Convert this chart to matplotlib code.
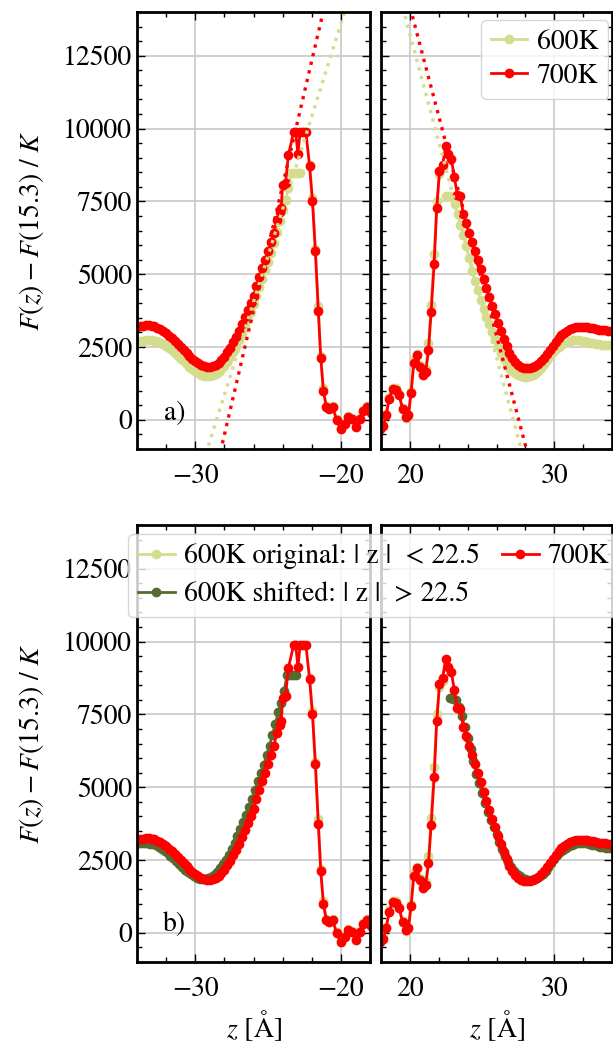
#!/usr/bin/env python3

import numpy as np
import matplotlib
matplotlib.use('Agg')
import matplotlib.pyplot as plt
from matplotlib.ticker import MultipleLocator

plt.rcParams['font.family'] = 'STIXGeneral'
plt.rcParams['mathtext.fontset'] = 'stix'
plt.rcParams['font.size'] = 20

STEP = 0.2

# ---------------- 700K ----------------
# z < 0 : smooth outer part, z = -34.0, -33.8, ..., -24.2
Z0_700_LEFT = -34.0
f700_left_tail = [3200, 3215, 3230, 3240, 3240, 3230, 3205, 3170, 3120, 3055,
                  2980, 2895, 2800, 2700, 2595, 2490, 2385, 2285, 2185, 2095,
                  2015, 1945, 1890, 1850, 1825, 1820, 1840, 1885, 1955, 2050,
                  2170, 2320, 2480, 2660, 2850, 3060, 3290, 3520, 3760, 4000,
                  4250, 4580, 4900, 5200, 5480, 5800, 6100, 6420, 6850, 7150]
# z < 0 : barrier peak and inner part
z700_left_peak = [-24.1, -24.0, -23.8, -23.6, -23.25, -23.1, -22.95, -22.8, -22.6, -22.4,
                  -22.15, -21.95, -21.75, -21.55, -21.38, -21.2, -21.0, -20.8, -20.55, -20.3,
                  -20.0, -19.75, -19.5, -19.25, -18.95, -18.7, -18.45, -18.2, -17.95]
f700_left_peak = [7260, 8070, 8140, 9100, 9870, 9870, 9120, 9870, 9870, 9870,
                  8720, 7500, 5780, 3750, 2110, 1000, 440, 380, 440, -20,
                  -310, -140, 90, 35, -230, 35, 320, 440, 250]
# z > 0 : inner part and barrier peak
z700_right_peak = [17.95, 18.15, 18.35, 18.57, 18.8, 19.03, 19.26, 19.49, 19.7, 19.9,
                   20.08, 20.27, 20.48, 20.7, 20.9, 21.1, 21.29, 21.47, 21.68, 21.86,
                   22.05, 22.27, 22.48, 22.66, 22.87, 23.08, 23.29, 23.5, 23.7, 23.9, 24.1]
f700_right_peak = [-320, -200, 150, 730, 1070, 1040, 840, 380, 100, 160,
                   920, 1940, 2220, 1820, 1530, 1650, 2400, 3690, 5360, 7260,
                   8530, 8760, 9400, 9140, 8960, 8330, 7720, 7700, 7060, 6750, 6400]
# z > 0 : smooth outer part, z = 24.3, 24.5, ..., 34.1
Z0_700_RIGHT = 24.3
f700_right_tail = [6120, 5800, 5480, 5170, 4850, 4540, 4220, 3920, 3630, 3330,
                   3040, 2770, 2520, 2300, 2120, 1980, 1880, 1820, 1790, 1780,
                   1780, 1800, 1840, 1910, 2010, 2130, 2270, 2410, 2550, 2680,
                   2800, 2900, 2990, 3060, 3120, 3160, 3190, 3200, 3200, 3190,
                   3175, 3160, 3140, 3120, 3100, 3085, 3070, 3060, 3055, 3050]

# ---------------- 600K ----------------
# |z| > 22.5, z < 0 : z = -34.0, -33.8, ..., -22.8
Z0_600_LEFT = -34.0
f600_left_outer = [2680, 2700, 2720, 2730, 2735, 2730, 2715, 2690, 2650, 2600,
                   2540, 2470, 2390, 2300, 2205, 2105, 2005, 1910, 1820, 1740,
                   1665, 1600, 1550, 1515, 1500, 1500, 1525, 1570, 1640, 1740,
                   1860, 2000, 2160, 2330, 2520, 2730, 2960, 3200, 3450, 3710,
                   3980, 4260, 4550, 4850, 5130, 5420, 5740, 6080, 6440, 6820,
                   7220, 7540, 7950, 8490, 8490, 8490, 8490]
# |z| < 22.5
z600_left_inner = [-22.15, -21.95, -21.75, -21.55, -21.38, -21.2, -21.0, -20.8, -20.55, -20.3,
                   -20.0, -19.75, -19.5, -19.25, -18.95, -18.7, -18.45, -18.2, -17.95]
f600_left_inner = [8750, 7600, 5850, 3900, 2200, 1080, 470, 400, 470, 30,
                   -270, -100, 120, 60, -200, 60, 350, 470, 280]
z600_right_inner = [17.95, 18.15, 18.35, 18.57, 18.8, 19.03, 19.26, 19.49, 19.7, 19.9,
                    20.08, 20.27, 20.48, 20.7, 20.9, 21.1, 21.29, 21.47, 21.68, 21.86,
                    22.05, 22.27]
f600_right_inner = [-270, -150, 200, 780, 1110, 1080, 880, 420, 60, 200,
                    1000, 2050, 2250, 1880, 1600, 1750, 2650, 3950, 5700, 7500,
                    8450, 8650]
# |z| > 22.5, z > 0 : z = 22.5, 22.7, ..., 34.1
Z0_600_RIGHT = 22.5
f600_right_outer = [7700, 7680, 7640, 7400, 7080, 6700, 6350, 5960, 5560, 5120,
                    4780, 4450, 4110, 3800, 3530, 3280, 3030, 2780, 2530, 2290,
                    2090, 1910, 1780, 1680, 1610, 1540, 1490, 1470, 1470, 1490,
                    1530, 1590, 1680, 1790, 1920, 2060, 2200, 2320, 2420, 2500,
                    2570, 2630, 2680, 2715, 2735, 2740, 2735, 2720, 2700, 2675,
                    2650, 2625, 2605, 2590, 2580, 2570, 2565, 2560, 2560]

# shift applied to the 600K outer part in panel b)
SHIFT_Z = 0.3
SHIFT_F = 350

# linear fits of the barrier flanks: F = slope * (z - z0), [left, right]
fit_slope_700 = [2140, -1882]
fit_zero_700 = [-27.76, 27.54]
fit_slope_600 = [1592, -1849]
fit_zero_600 = [-28.54, 27.16]

C600 = '#d4dc8e'
C600_SHIFT = '#556b2f'
C700 = '#ff0000'
LINE = dict(lw=2, marker='o', ms=6)


def grid_z(z0, values):
    return z0 + STEP * np.arange(len(values))


z700_left = np.concatenate([grid_z(Z0_700_LEFT, f700_left_tail), z700_left_peak])
f700_left = np.concatenate([f700_left_tail, f700_left_peak])
z700_right = np.concatenate([z700_right_peak, grid_z(Z0_700_RIGHT, f700_right_tail)])
f700_right = np.concatenate([f700_right_peak, f700_right_tail])
z600_left_outer = grid_z(Z0_600_LEFT, f600_left_outer)
z600_right_outer = grid_z(Z0_600_RIGHT, f600_right_outer)

fig = plt.figure(figsize=(6.13, 10.42), dpi=100)
left_x, left_w = 137 / 613, 233 / 613
right_x, right_w = 381 / 613, 231 / 613
row_h = 437 / 1042
rows = [1 - 449 / 1042, 1 - 962 / 1042]

axes = []
for bottom in rows:
    axl = fig.add_axes([left_x, bottom, left_w, row_h])
    axr = fig.add_axes([right_x, bottom, right_w, row_h])
    axes.append((axl, axr))

for i, (axl, axr) in enumerate(axes):
    for ax in (axl, axr):
        ax.set_ylim(-1000, 14000)
        ax.yaxis.set_major_locator(MultipleLocator(2500))
        ax.yaxis.set_minor_locator(MultipleLocator(500))
        ax.xaxis.set_major_locator(MultipleLocator(10))
        ax.xaxis.set_minor_locator(MultipleLocator(2))
        ax.tick_params(which='both', direction='in', top=True, right=True, width=1)
        ax.tick_params(which='major', length=6)
        ax.tick_params(which='minor', length=3.5)
        ax.tick_params(axis='x', pad=11)
        ax.grid(True, which='major', color='#c8c8c8', lw=1.2)
        ax.set_axisbelow(True)
        for sp in ax.spines.values():
            sp.set_linewidth(2)
    axl.set_xlim(-34, -18)
    axr.set_xlim(18, 34)
    axr.tick_params(labelleft=False)
    axl.set_ylabel(r'$F(z) - F(15.3)$ / $K$')
    axl.yaxis.set_label_coords(-0.39, 0.5)

# ---------- panel a) ----------
axl, axr = axes[0]
axl.plot(z600_left_outer, f600_left_outer, color=C600, label='600K', **LINE)
axl.plot(z600_left_inner, f600_left_inner, color=C600, **LINE)
axl.plot(z700_left, f700_left, color=C700, label='700K', **LINE)
axr.plot(z600_right_inner, f600_right_inner, color=C600, **LINE)
axr.plot(z600_right_outer, f600_right_outer, color=C600, **LINE)
axr.plot(z700_right, f700_right, color=C700, **LINE)

zfit = [np.linspace(-32, -18, 50), np.linspace(18, 32, 50)]
for k, ax in enumerate((axl, axr)):
    ax.plot(zfit[k], fit_slope_600[k] * (zfit[k] - fit_zero_600[k]), ':', color=C600, lw=2.4)
    ax.plot(zfit[k], fit_slope_700[k] * (zfit[k] - fit_zero_700[k]), ':', color=C700, lw=2.4)

h, l = axl.get_legend_handles_labels()
axr.legend(h, l, loc='upper right', bbox_to_anchor=(0.983, 0.982), borderaxespad=0,
           handlelength=1.3, handletextpad=0.35, borderpad=0.35, labelspacing=0.3,
           framealpha=0.8, edgecolor='0.8')
axl.text(0.16, 0.082, 'a)', transform=axl.transAxes, ha='center', va='center')

# ---------- panel b) ----------
axl, axr = axes[1]
h1, = axl.plot(z600_left_inner, f600_left_inner, color=C600, **LINE)
axr.plot(z600_right_inner, f600_right_inner, color=C600, **LINE)
h2, = axl.plot(z600_left_outer - SHIFT_Z, np.array(f600_left_outer) + SHIFT_F,
               color=C600_SHIFT, **LINE)
axr.plot(z600_right_outer + SHIFT_Z, np.array(f600_right_outer) + SHIFT_F,
         color=C600_SHIFT, **LINE)
h3, = axl.plot(z700_left, f700_left, color=C700, **LINE)
axr.plot(z700_right, f700_right, color=C700, **LINE)
axl.text(0.16, 0.087, 'b)', transform=axl.transAxes, ha='center', va='center')

for ax in (axl, axr):
    ax.set_xlabel(r'$z$ [Å]')
    ax.xaxis.set_label_coords(0.5, -0.105)

fig.legend([h1, h2, h3],
           ['600K original: | z |  < 22.5', '600K shifted: | z |  > 22.5', '700K'],
           loc='upper left', bbox_to_anchor=(128 / 613, 1 - 534 / 1042), ncol=2,
           borderaxespad=0, handlelength=1.35, handletextpad=0.3, borderpad=0.35,
           labelspacing=0.45, columnspacing=0.8, framealpha=0.8, edgecolor='0.8')

fig.savefig('out.png', dpi=100)
plt.close(fig)
